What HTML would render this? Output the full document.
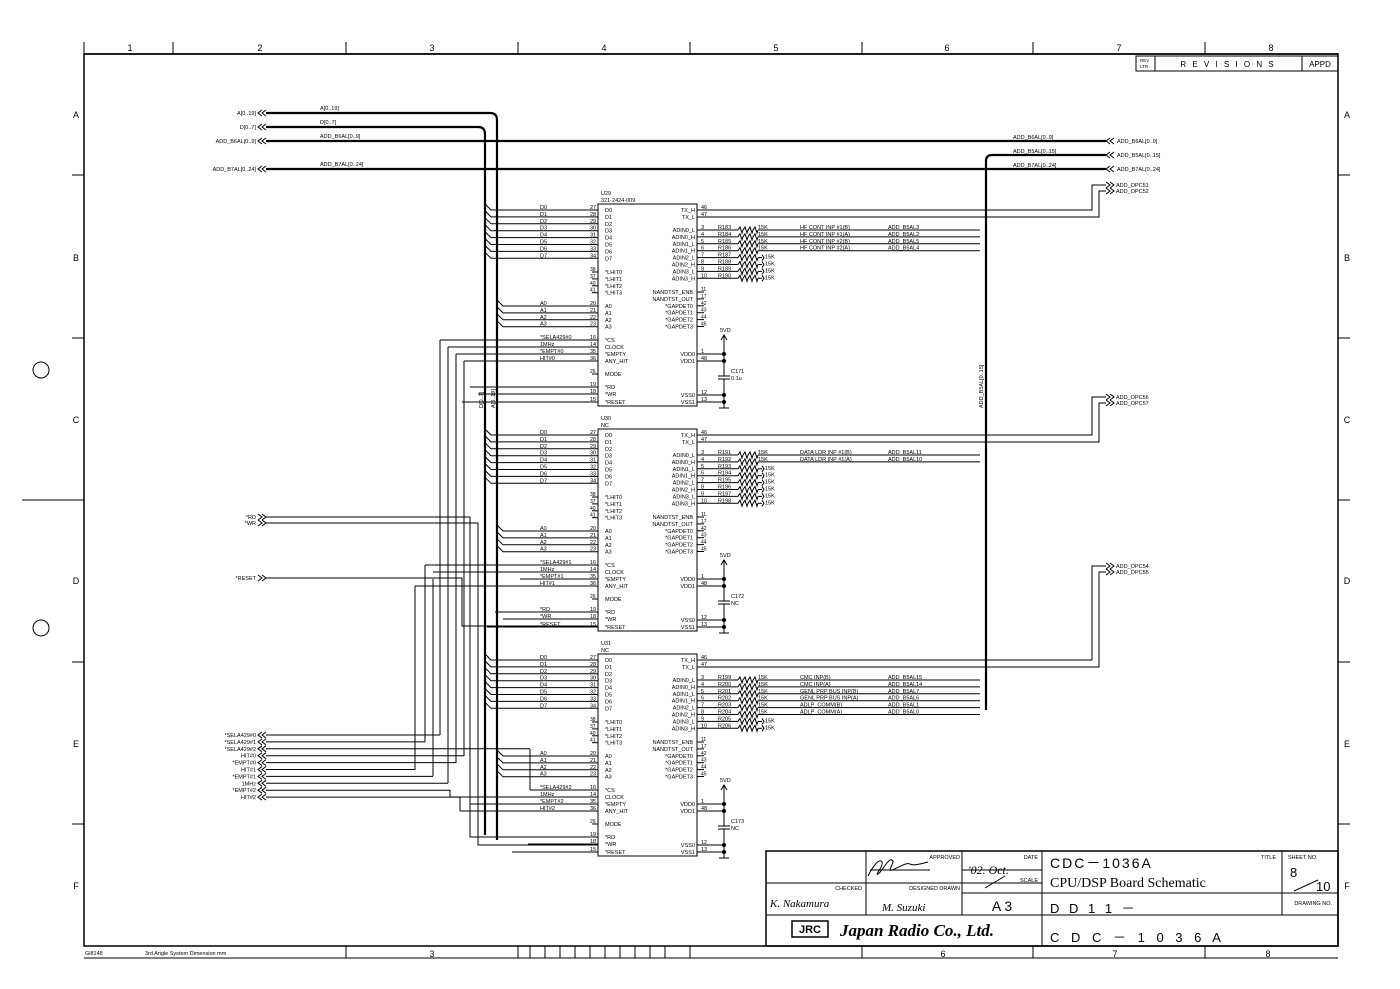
<!DOCTYPE html>
<html><head><meta charset="utf-8"><style>
html,body{margin:0;padding:0;background:#fff;}
svg{display:block;font-family:"Liberation Sans",sans-serif;}
</style></head><body>
<svg id="s" width="1400" height="989" viewBox="0 0 1400 989" xmlns="http://www.w3.org/2000/svg">
<g id="g" stroke="#000" fill="none" stroke-width="1"></g>
<g id="t" fill="#000" font-size="6"></g>
</svg>
<script>
const NS="http://www.w3.org/2000/svg";
const G=document.getElementById('g'),T=document.getElementById('t');
function L(x1,y1,x2,y2,w){const e=document.createElementNS(NS,'line');e.setAttribute('x1',x1);e.setAttribute('y1',y1);e.setAttribute('x2',x2);e.setAttribute('y2',y2);if(w)e.setAttribute('stroke-width',w);G.appendChild(e);}
function P(d,w){const e=document.createElementNS(NS,'path');e.setAttribute('d',d);if(w)e.setAttribute('stroke-width',w);G.appendChild(e);}
function R(x,y,w,h,sw){const e=document.createElementNS(NS,'rect');e.setAttribute('x',x);e.setAttribute('y',y);e.setAttribute('width',w);e.setAttribute('height',h);if(sw)e.setAttribute('stroke-width',sw);G.appendChild(e);}
function X(x,y,s,sz,anc,extra){const e=document.createElementNS(NS,'text');e.setAttribute('x',x);e.setAttribute('y',y);if(sz)e.setAttribute('font-size',sz);if(anc)e.setAttribute('text-anchor',anc);if(extra)for(const k in extra)e.setAttribute(k,extra[k]);e.textContent=s;T.appendChild(e);}
function D(x,y){const e=document.createElementNS(NS,'circle');e.setAttribute('cx',x);e.setAttribute('cy',y);e.setAttribute('r',1.5);e.setAttribute('fill','#000');G.appendChild(e);}
L(84,42,84,54);R(84,54,1254,892,1.5);
L(84,54,1338,54,1.5);
[173,346,518,690,862,1033,1205].forEach(x=>L(x,42,x,54));
[[130,'1'],[260,'2'],[432,'3'],[604,'4'],[776,'5'],[947,'6'],[1119,'7'],[1271,'8']].forEach(a=>X(a[0],51,a[1],9,'middle'));
[[115,'A'],[258,'B'],[420,'C'],[581,'D'],[744,'E'],[886,'F']].forEach(a=>{X(76,a[0]+3,a[1],9,'middle');X(1347,a[0]+3,a[1],9,'middle');});
[175,338,500,662,824].forEach(y=>{L(72,y,84,y);L(1338,y,1350,y);});
L(22,500,84,500);
[370,628].forEach(y=>{const c=document.createElementNS(NS,'circle');c.setAttribute('cx',41);c.setAttribute('cy',y);c.setAttribute('r',8);G.appendChild(c);});
L(84,958,1338,958);[346,518,530,545,560,575,590,605,620,635,650,665,690,862,1033,1205].forEach(x=>L(x,946,x,958));
X(85,955,'Gi8148',5.5);X(145,955,'3rd Angle System  Dimension mm',5.5);
[[432,'3'],[943,'6'],[1115,'7'],[1268,'8']].forEach(a=>X(a[0],957,a[1],9,'middle'));
R(1136,56,202,15);L(1155,56,1155,71);L(1302,56,1302,71);
X(1140,62,'REV',4.5);X(1140,68,'LTR',4.5);X(1228,67,'R E V I S I O N S',8,'middle',{'letter-spacing':'2'});X(1320,67,'APPD',8,'middle');
R(766,851,572,95,1.5);L(766,883,1042,883);L(766,915,1338,915);L(866,851,866,915);L(962,851,962,915);L(1042,851,1042,946);L(962,870,1042,870);L(962,893,1042,893);L(1282,851,1282,915);L(1042,893,1338,893);
X(960,859,'APPROVED',5.5,'end');X(1038,859,'DATE',5.5,'end');X(1038,882,'SCALE',5.5,'end');X(862,890,'CHECKED',5.5,'end');X(960,890,'DESIGNED DRAWN',5.5,'end');
X(1002,911,'A 3',14,'middle');X(1050,868,'CDC－1036A',14,null,{'letter-spacing':'2'});X(1050,887,'CPU/DSP Board Schematic',14,null,{'font-family':'Liberation Serif'});
X(1276,859,'TITLE',5.5,'end');X(1288,859,'SHEET NO.',5.5);X(1290,877,'8',13);X(1316,891,'10',13);L(1294,891,1318,880);
X(1332,905,'DRAWING NO.',5.5,'end');X(1050,913,'D D 1 1 －',13,null,{'letter-spacing':'3'});
X(1050,942,'C D C － 1 0 3 6 A',13,null,{'letter-spacing':'4'});
R(792,921,36,16,1.5);X(810,933,'JRC',11,'middle',{'font-weight':'bold'});X(840,936,'Japan Radio Co., Ltd.',17,null,{'font-weight':'bold','font-style':'italic','font-family':'Liberation Serif'});
X(770,907,'K. Nakamura',11,null,{'font-style':'italic','font-family':'Liberation Serif'});X(882,911,'M. Suzuki',11,null,{'font-style':'italic','font-family':'Liberation Serif'});
P('M868 876c6-12 12-18 14-14s-8 14-4 12 10-16 14-14-6 12 0 10 14-8 18-6 10 0 18-2M870 870h60');
X(968,874,"'02. Oct.",12,null,{'font-style':'italic','font-family':'Liberation Serif'});L(985,888,1005,876);
function ch(x,y,dir){
 if(dir<0){P(`M${x+4} ${y-3}L${x} ${y}L${x+4} ${y+3}M${x+8} ${y-3}L${x+4} ${y}L${x+8} ${y+3}`);}
 else{P(`M${x} ${y-3}L${x+4} ${y}L${x} ${y+3}M${x+4} ${y-3}L${x+8} ${y}L${x+4} ${y+3}`);}
}
[[113,'A[0..19]'],[127,'D[0..7]'],[141,'ADD_B6AL[0..9]'],[169,'ADD_B7AL[0..24]']].forEach(a=>{ch(258,a[0],-1);X(256,a[0]+2,a[1],5.5,'end');X(320,a[0]-3,a[1],5.5);});
P('M266 113H490Q497 113 497 120V840',2.2);P('M266 127H478Q485 127 485 134V835',2.2);
L(266,141,1106,141,2.2);L(266,169,1106,169,2.2);
P('M1106 155H992Q986 155 986 161V710',2.2);
X(1013,139,'ADD_B6AL[0..9]',5.5);X(1013,153,'ADD_B5AL[0..15]',5.5);X(1013,167,'ADD_B7AL[0..24]',5.5);
[[141,'ADD_B6AL[0..9]'],[155,'ADD_B5AL[0..15]'],[169,'ADD_B7AL[0..24]']].forEach(a=>{ch(1106,a[0],-1);X(1117,a[0]+2,a[1],5.5);});
X(483,408,'D[0..7]',5.5,null,{transform:'rotate(-90 483 408)'});X(495,408,'A[0..19]',5.5,null,{transform:'rotate(-90 495 408)'});
X(983,408,'ADD_B5AL[0..15]',5.5,null,{transform:'rotate(-90 983 408)'});
const chips=[{y:204,n:'U29',s:'321-2424-009',k:0},{y:429,n:'U30',s:'NC',k:1},{y:654,n:'U31',s:'NC',k:2}];
const rl=[['183','184','185','186','187','188','189','190'],['191','192','193','194','195','196','197','198'],['199','200','201','202','203','204','205','206']];
const sig=[[['HF CONT INP #1(B)','ADD_B5AL3'],['HF CONT INP #1(A)','ADD_B5AL2'],['HF CONT INP #2(B)','ADD_B5AL5'],['HF CONT INP #2(A)','ADD_B5AL4']],
[['DATA LDR INP #1(B)','ADD_B5AL11'],['DATA LDR INP #1(A)','ADD_B5AL10']],
[['CMC INP(B)','ADD_B5AL15'],['CMC INP(A)','ADD_B5AL14'],['GENL PRP BUS INP(B)','ADD_B5AL7'],['GENL PRP BUS INP(A)','ADD_B5AL6'],['ADLP_COMM(B)','ADD_B5AL1'],['ADLP_COMM(A)','ADD_B5AL0']]];
const opc=[['ADD_OPC51','ADD_OPC52',185],['ADD_OPC56','ADD_OPC57',397],['ADD_OPC54','ADD_OPC55',566]];
const ctrlX=[[440,448,456,464],[425,433,520,415],[530,450,470,460]];
chips.forEach(c=>{
 const o=c.y-204,k=c.k;R(598,c.y,99,202);
 X(601,c.y-9,c.n,5.5);X(601,c.y-2,c.s,5.5);
 const dp=[27,28,29,30,31,32,33,34];
 for(let i=0;i<8;i++){const y=210+o+i*6.9;P(`M485 ${y-6}L491 ${y}H598`);X(540,y-1,'D'+i,5.5);X(590,y-1,dp[i],5.5);X(605,y+2,'D'+i,5.5);}
 ['38','37','40','41'].forEach((p,i)=>{const y=272+o+i*6.9;L(592,y,598,y);X(590,y-1,p,5);X(605,y+2,'*LHIT'+i,5.5);});
 [20,21,22,23].forEach((p,i)=>{const y=306+o+i*6.9;P(`M497 ${y-6}L503 ${y}H598`);X(540,y-1,'A'+i,5.5);X(590,y-1,p,5.5);X(605,y+2,'A'+i,5.5);});
 const cp=[[340,16,'*CS','*SELA429#'+k],[347,14,'CLOCK','1MHz'],[354,35,'*EMPTY','*EMPT#'+k],[361,36,'ANY_HIT','HIT#'+k]];
 cp.forEach((a,i)=>{const y=a[0]+o;L(ctrlX[k][i],y,598,y);X(540,y-1,a[3],5.5);X(590,y-1,a[1],5.5);X(605,y+2,a[2],5.5);});
 L(592,374+o,598,374+o);X(590,373+o,'26',5);X(605,376+o,'MODE',5.5);
 [[387,19,'*RD',470],[394,18,'*WR',478],[402,15,'*RESET',462]].forEach(a=>{const y=a[0]+o;L(a[3]+k*25,y,598,y);X(590,y-1,a[1],5.5);X(605,y+2,a[2],5.5);if(k==1)X(540,y-1,a[2],5.5);});
 [[210,46,'TX_H'],[217,47,'TX_L']].forEach((a,i)=>{const y=a[0]+o;X(695,y+2,a[2],5.5,'end');X(701,y-1,a[1],5.5);});
 const ox=1092,oy=opc[k][2];P(`M697 ${210+o}H${ox}V${oy}H1106`);P(`M697 ${217+o}H${ox+7}V${oy+6}H1106`);
 ch(1106,oy,1);ch(1106,oy+6,1);X(1116,oy+2,opc[k][0],5.5);X(1116,oy+8,opc[k][1],5.5);
 const ad=['ADIN0_L','ADIN0_H','ADIN1_L','ADIN1_H','ADIN2_L','ADIN2_H','ADIN3_L','ADIN3_H'];
 const ns=sig[k].length;
 for(let i=0;i<8;i++){const y=230+o+i*6.9;X(695,y+2,ad[i],5.5,'end');X(701,y-1,3+i,5.5);X(718,y-1,'R'+rl[k][i],5.5);
  L(697,y,738,y);let d=`M738 ${y}`;for(let j=0;j<4;j++)d+=`l2 -3l2 6l1 -3`;P(d);
  if(i<ns){L(758,y,980,y);X(758,y-1,'15K',5.5);X(800,y-1,sig[k][i][0],5.5);X(888,y-1,sig[k][i][1],5.5);}
  else{L(758,y,762,y);P(`M762 ${y-3}l2 3l-2 3`);X(765,y+1,'15K',5.5);}}
 const nd=[['NANDTST_ENB',11],['NANDTST_OUT',17],['*GAPDET0',42],['*GAPDET1',43],['*GAPDET2',44],['*GAPDET3',45]];
 nd.forEach((a,i)=>{const y=292+o+i*6.9;X(693,y+2,a[0],5.5,'end');L(697,y,704,y);X(701,y-1,a[1],5);});
 [[354,1,'VDD0'],[361,48,'VDD1'],[395,12,'VSS0'],[402,13,'VSS1']].forEach(a=>{const y=a[0]+o;X(695,y+2,a[2],5.5,'end');L(697,y,724,y);X(701,y-1,a[1],5.5);D(724,y);});
 L(724,336+o,724,366+o);P(`M721 ${340+o}L724 ${335+o}L727 ${340+o}`);X(720,332+o,'5VD',5.5);
 L(724,366+o,724,376+o);L(718,376+o,730,376+o);L(718,379+o,730,379+o);L(724,379+o,724,408+o);L(719,408+o,729,408+o);
 X(731,373+o,'C17'+(k+1),5.5);X(731,380+o,k==0?'0.1u':'NC',5.5);
});
[[517,'*RD'],[523,'*WR'],[578,'*RESET']].forEach(a=>{ch(258,a[0],1);X(256,a[0]+2,a[1],5.5,'end');});
P('M266 517H470V837H598');P('M266 523H478V845H598');P('M266 578H462V626H598');
const es=['*SELA429#0','*SELA429#1','*SELA429#2','HIT#0','*EMPT#0','HIT#1','*EMPT#1','1MHz','*EMPT#2','HIT#2'];
const ex=[440,425,530,464,456,415,433,448,450,460];
es.forEach((s,i)=>{const y=735+i*6.9;ch(258,y,-1);X(256,y+2,s,5.5,'end');L(266,y,ex[i],y);});
[[440,735,340],[425,742,565],[464,756,361],[456,763,354],[415,770,586],[433,776,579],[448,783,347],[448,572,572]].forEach(a=>L(a[0],a[1],a[0],a[2]));
P('M530 749V790');P('M450 790V797');P('M460 797V811');L(450,790,450,797);
</script>
</body></html>
